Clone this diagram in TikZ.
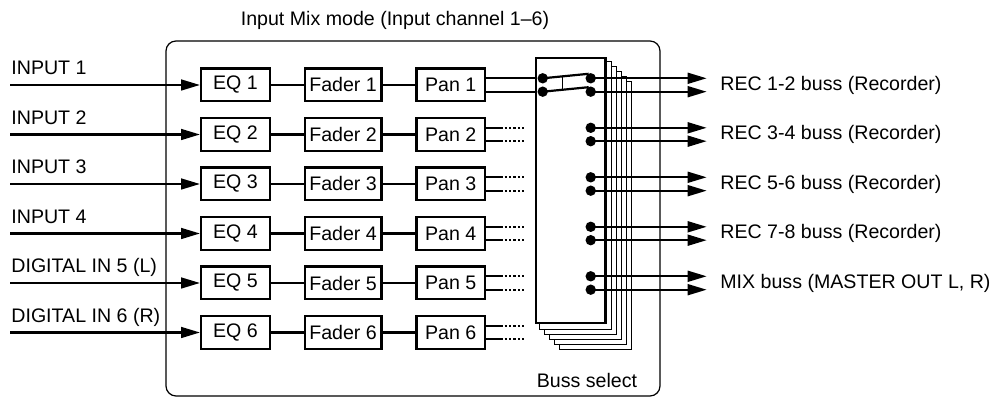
\documentclass[tikz,border=0pt]{standalone}
\usepackage{fontspec}
\setmainfont{Liberation Sans}
\usetikzlibrary{positioning, calc, backgrounds, arrows.meta}

\begin{document}
\begin{tikzpicture}[
        x=0.5pt, y=-0.5pt,
        node distance=16.3pt,
        font=\fontsize{9.8}{11}\selectfont,
        block/.style={rectangle, draw, line width=1.2pt, fill=white, minimum height=16.3pt, inner sep=1pt},
        eqbox/.style={block, minimum width=34.3pt},
        faderbox/.style={block, minimum width=38.3pt},
        panbox/.style={block, minimum width=34.3pt},
        busbox/.style={rectangle, draw, line width=1.2pt, fill=white, minimum width=34.6pt, minimum height=132.6pt},
        stackbox/.style={draw, line width=0.5pt, fill=white},
        frame/.style={draw, line width=0.6pt, rounded corners=5pt},
        tag/.style={anchor=base west, inner sep=0pt},
        outtag/.style={anchor=west, inner sep=0pt},
        wire/.style={line width=1.1pt},
        arrow/.style={wire, -{Triangle[length=9.5pt, width=5.4pt]}},
        dotwire/.style={wire, dash pattern=on 1.2pt off 1pt},
        link/.style={line width=0.5pt},
        dot/.style={circle, fill, inner sep=0pt, minimum size=5.2pt}
    ]
    \useasboundingbox (0,0) rectangle (995,399);

    \draw [frame] (166,41) rectangle (660,396);
    \node (title) at (395,20) {Input Mix mode (Input channel 1--6)};

    % channel strips
    \node (eq1) [eqbox] at (235.5,85) {EQ 1};
    \node (fader1) [faderbox, right=of eq1] {Fader 1};
    \node (pan1) [panbox, right=of fader1] {Pan 1};

    \node (eq2) [eqbox] at (235.5,134.5) {EQ 2};
    \node (fader2) [faderbox, right=of eq2] {Fader 2};
    \node (pan2) [panbox, right=of fader2] {Pan 2};

    \node (eq3) [eqbox] at (235.5,184) {EQ 3};
    \node (fader3) [faderbox, right=of eq3] {Fader 3};
    \node (pan3) [panbox, right=of fader3] {Pan 3};

    \node (eq4) [eqbox] at (235.5,233.5) {EQ 4};
    \node (fader4) [faderbox, right=of eq4] {Fader 4};
    \node (pan4) [panbox, right=of fader4] {Pan 4};

    \node (eq5) [eqbox] at (235.5,283) {EQ 5};
    \node (fader5) [faderbox, right=of eq5] {Fader 5};
    \node (pan5) [panbox, right=of fader5] {Pan 5};

    \node (eq6) [eqbox] at (235.5,332.5) {EQ 6};
    \node (fader6) [faderbox, right=of eq6] {Fader 6};
    \node (pan6) [panbox, right=of fader6] {Pan 6};

    % inputs
    \coordinate (in1) at (10,85);
    \coordinate (in2) at (10,134.5);
    \coordinate (in3) at (10,184);
    \coordinate (in4) at (10,233.5);
    \coordinate (in5) at (10,283);
    \coordinate (in6) at (10,332.5);
    \node (lab1) [tag] at ($(in1)+(1,-10)$) {INPUT 1};
    \node (lab2) [tag] at ($(in2)+(1,-10)$) {INPUT 2};
    \node (lab3) [tag] at ($(in3)+(1,-10)$) {INPUT 3};
    \node (lab4) [tag] at ($(in4)+(1,-10)$) {INPUT 4};
    \node (lab5) [tag] at ($(in5)+(1,-10)$) {DIGITAL IN 5 (L)};
    \node (lab6) [tag] at ($(in6)+(1,-10)$) {DIGITAL IN 6 (R)};

    \foreach \i in {1,...,6} {
        \draw [arrow] (in\i) -- (eq\i);
        \draw [wire] (eq\i) -- (fader\i);
        \draw [wire] (fader\i) -- (pan\i);
    }

    % buss select
    \node (bus) [busbox] at (570.75,190.5) {};
    \begin{scope}[on background layer]
        \foreach \k in {5,4,3,2,1}
            \draw [stackbox] ($(bus.north west)+(5*\k,5*\k)$) rectangle ($(bus.south east)+(5*\k,5*\k)$);
    \end{scope}
    \node (bustext) at (587,380) {Buss select};

    % switch
    \node (la1) [dot] at (542.7,78.3) {};
    \node (lb1) [dot] at (542.7,91.7) {};
    \node (ra1) [dot] at (590.7,78.3) {};
    \node (rb1) [dot] at (590.7,91.7) {};
    \node (ra2) [dot] at (590.7,127.8) {};
    \node (rb2) [dot] at (590.7,141.2) {};
    \node (ra3) [dot] at (590.7,177.3) {};
    \node (rb3) [dot] at (590.7,190.7) {};
    \node (ra4) [dot] at (590.7,226.8) {};
    \node (rb4) [dot] at (590.7,240.2) {};
    \node (ra5) [dot] at (590.7,276.3) {};
    \node (rb5) [dot] at (590.7,289.7) {};

    \draw [wire] (pan1.east |- la1) -- (la1);
    \draw [wire] (pan1.east |- lb1) -- (lb1);
    \draw [wire] (la1.center) -- coordinate[pos=0.42] (ka) ($(ra1.center)+(-2,-4.5)$);
    \draw [wire] (lb1.center) -- coordinate[pos=0.42] (kb) ($(rb1.center)+(-2,-4.5)$);
    \draw [link] (ka) -- (kb);

    % open pan outputs
    \foreach \i in {2,...,6}
        \foreach \d in {-6.7,6.7} {
            \draw [wire] ($(pan\i.east)+(0,\d)$) -- ++(14,0) coordinate (stub);
            \draw [dotwire] (stub) -- ++(24,0);
        }

    % busses
    \coordinate (tip) at (706.7,0);
    \foreach \i in {1,...,5} {
        \draw [arrow] (ra\i.center) -- (ra\i -| tip);
        \draw [arrow] (rb\i.center) -- (rb\i -| tip);
    }
    \node (rec12) [outtag] at (720,85) {REC 1-2 buss (Recorder)};
    \node (rec34) [outtag] at (720,134.5) {REC 3-4 buss (Recorder)};
    \node (rec56) [outtag] at (720,184) {REC 5-6 buss (Recorder)};
    \node (rec78) [outtag] at (720,233.5) {REC 7-8 buss (Recorder)};
    \node (mix) [outtag] at (720,283) {MIX buss (MASTER OUT L, R)};
\end{tikzpicture}
\end{document}
